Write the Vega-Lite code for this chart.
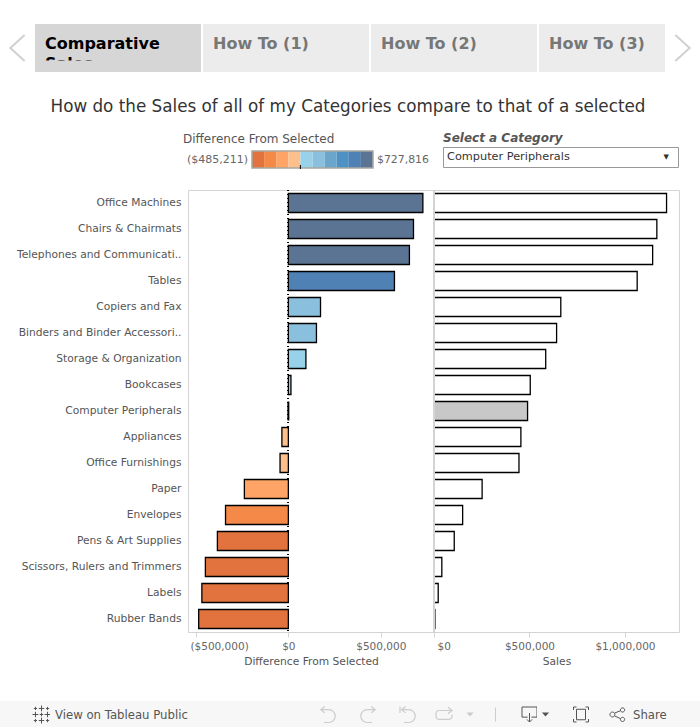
{"$schema":"https://vega.github.io/schema/vega-lite/v6.json","padding":{"top":24,"left":0,"right":0,"bottom":0},"background":"white","spacing":0,
"config":{"font":"DejaVu Sans","view":{"stroke":null},"concat":{"spacing":0}},
"datasets":{
"cats":[
{"Category":"Office Machines","Sales":1217816,"Diff":727816},
{"Category":"Chairs & Chairmats","Sales":1167000,"Diff":677000},
{"Category":"Telephones and Communicati..","Sales":1145000,"Diff":655000},
{"Category":"Tables","Sales":1064000,"Diff":574000},
{"Category":"Copiers and Fax","Sales":664000,"Diff":174000},
{"Category":"Binders and Binder Accessori..","Sales":642000,"Diff":152000},
{"Category":"Storage & Organization","Sales":585000,"Diff":95000},
{"Category":"Bookcases","Sales":504000,"Diff":14000},
{"Category":"Computer Peripherals","Sales":490000,"Diff":0},
{"Category":"Appliances","Sales":455000,"Diff":-35000},
{"Category":"Office Furnishings","Sales":445000,"Diff":-45000},
{"Category":"Paper","Sales":252000,"Diff":-238000},
{"Category":"Envelopes","Sales":150000,"Diff":-340000},
{"Category":"Pens & Art Supplies","Sales":106000,"Diff":-384000},
{"Category":"Scissors, Rulers and Trimmers","Sales":41000,"Diff":-449000},
{"Category":"Labels","Sales":22000,"Diff":-468000},
{"Category":"Rubber Bands","Sales":4789,"Diff":-485211}],
"ramp":[{"Lo":-485211,"Hi":-363908},{"Lo":-363908,"Hi":-242605},{"Lo":-242605,"Hi":-121303},{"Lo":-121303,"Hi":0},{"Lo":0,"Hi":121303},{"Lo":121303,"Hi":242605},{"Lo":242605,"Hi":363908},{"Lo":363908,"Hi":485211},{"Lo":485211,"Hi":606513},{"Lo":606513,"Hi":727816}]
},
"vconcat":[
{"hconcat":[
 {"width":35,"height":48,"data":{"values":[{"a":"prev"}]},"mark":{"type":"point","shape":"M0.55,-1L-0.55,0L0.55,1","size":676,"filled":false,"stroke":"#d0d0d0","strokeWidth":2,"opacity":1},"encoding":{}},
 {"hconcat":[
  {"width":166,"height":48,"view":{"fill":"#d6d6d6"},"layer":[
   {"data":{"values":[{"tab":"Comparative\nSales"}]},"mark":{"type":"text","clip":true,"lineBreak":"\n","align":"left","baseline":"top","dx":10,"dy":12,"fontSize":16,"fontWeight":"bold","color":"#000000","lineHeight":19.5},"encoding":{"text":{"field":"tab"},"x":{"datum":0,"type":"quantitative","scale":{"domain":[0,1]},"axis":null},"y":{"datum":1,"type":"quantitative","scale":{"domain":[0,1]},"axis":null}}},
   {"data":{"values":[{"tab":"cover"}]},"mark":{"type":"rect","color":"#d6d6d6"},"encoding":{"x":{"datum":0,"type":"quantitative"},"x2":{"datum":1},"y":{"datum":0,"type":"quantitative"},"y2":{"datum":0.24}}}
  ]},
  {"width":166,"height":48,"view":{"fill":"#ececec"},"data":{"values":[{"tab":"How To (1)"}]},"mark":{"type":"text","clip":true,"align":"left","baseline":"top","dx":10,"dy":12,"fontSize":16,"fontWeight":"bold","color":"#777777"},"encoding":{"text":{"field":"tab"},"x":{"datum":0,"type":"quantitative","scale":{"domain":[0,1]},"axis":null},"y":{"datum":1,"type":"quantitative","scale":{"domain":[0,1]},"axis":null}}},
  {"width":166,"height":48,"view":{"fill":"#ececec"},"data":{"values":[{"tab":"How To (2)"}]},"mark":{"type":"text","clip":true,"align":"left","baseline":"top","dx":10,"dy":12,"fontSize":16,"fontWeight":"bold","color":"#777777"},"encoding":{"text":{"field":"tab"},"x":{"datum":0,"type":"quantitative","scale":{"domain":[0,1]},"axis":null},"y":{"datum":1,"type":"quantitative","scale":{"domain":[0,1]},"axis":null}}},
  {"width":126,"height":48,"view":{"fill":"#ececec"},"data":{"values":[{"tab":"How To (3)"}]},"mark":{"type":"text","clip":true,"align":"left","baseline":"top","dx":10,"dy":12,"fontSize":16,"fontWeight":"bold","color":"#777777"},"encoding":{"text":{"field":"tab"},"x":{"datum":0,"type":"quantitative","scale":{"domain":[0,1]},"axis":null},"y":{"datum":1,"type":"quantitative","scale":{"domain":[0,1]},"axis":null}}}
 ],"spacing":2,"bounds":"flush"},
 {"width":35,"height":48,"data":{"values":[{"a":"next"}]},"mark":{"type":"point","shape":"M-0.55,-1L0.55,0L-0.55,1","size":676,"filled":false,"stroke":"#d0d0d0","strokeWidth":2,"opacity":1},"encoding":{}}
],"spacing":0},
{"width":696,"height":54,"data":{"values":[{"t":"How do the Sales of all of my Categories compare to that of a selected"}]},"mark":{"type":"text","fontSize":16.8,"color":"#333333","dy":8},"encoding":{"text":{"field":"t"}}},
{"hconcat":[
 {"width":183,"height":62,"data":{"values":[]},"mark":"text","encoding":{}},
 {"vconcat":[
  {"width":246,"height":21,"data":{"values":[{"t":"Difference From Selected"}]},"mark":{"type":"text","align":"left","dy":2,"fontSize":12,"color":"#555555"},"encoding":{"text":{"field":"t"},"x":{"datum":0,"type":"quantitative","scale":{"domain":[0,1]},"axis":null}}},
  {"hconcat":[
   {"width":69,"height":17,"data":{"values":[{"t":"($485,211)"}]},"mark":{"type":"text","align":"right","dx":-4,"fontSize":11,"color":"#666666"},"encoding":{"text":{"field":"t"},"x":{"datum":1,"type":"quantitative","scale":{"domain":[0,1]},"axis":null}}},
   {"width":121,"height":17,"layer":[
    {"data":{"name":"ramp"},"mark":{"type":"rect","stroke":null},"encoding":{"x":{"field":"Lo","type":"quantitative","scale":{"domain":[-485211,727816],"nice":false,"zero":false},"axis":null},"x2":{"field":"Hi"},"color":{"field":"Lo","type":"quantitative","legend":null,"scale":{"type":"threshold","domain":[-363908,-242605,-121303,0,121303,242605,363908,485211,606513],"range":["#E2723E","#F58A48","#FDA466","#FDBF8C","#98D2EA","#8ABFDD","#6AA5CB","#4E92C3","#4F81B5","#5C7494"]}}}},
    {"data":{"name":"ramp"},"mark":{"type":"rect","fill":"transparent","stroke":"#a8a8a0","strokeWidth":1.5},"encoding":{"x":{"aggregate":"min","field":"Lo","type":"quantitative"},"x2":{"aggregate":"max","field":"Hi"}}},
    {"data":{"values":[{"Zero":0}]},"mark":{"type":"rule","color":"#000000","strokeWidth":1},"encoding":{"x":{"field":"Zero","type":"quantitative"},"y":{"datum":0.18,"type":"quantitative","scale":{"domain":[0,1]},"axis":null},"y2":{"datum":-0.06}}}
   ]},
   {"width":56,"height":17,"data":{"values":[{"t":"$727,816"}]},"mark":{"type":"text","align":"left","dx":4,"fontSize":10.9,"color":"#666666"},"encoding":{"text":{"field":"t"},"x":{"datum":0,"type":"quantitative","scale":{"domain":[0,1]},"axis":null}}}
  ],"spacing":0,"bounds":"flush"}
 ],"spacing":3},
 {"width":13,"height":20,"data":{"values":[]},"mark":"text","encoding":{}},
 {"vconcat":[
  {"width":235,"height":20,"data":{"values":[{"t":"Select a Category"}]},"mark":{"type":"text","align":"left","dy":2,"fontSize":12,"fontWeight":"bold","fontStyle":"italic","color":"#555555"},"encoding":{"text":{"field":"t"},"x":{"datum":0,"type":"quantitative","scale":{"domain":[0,1]},"axis":null}}},
  {"width":235,"height":20,"view":{"stroke":"#999999","fill":"white"},"layer":[
   {"data":{"values":[{"t":"Computer Peripherals"}]},"mark":{"type":"text","align":"left","dx":4,"fontSize":11.3,"color":"#333333"},"encoding":{"text":{"field":"t"},"x":{"datum":0,"type":"quantitative","scale":{"domain":[0,1]},"axis":null}}},
   {"data":{"values":[{"t":"▼"}]},"mark":{"type":"text","align":"right","dx":-9,"fontSize":7,"color":"#333333"},"encoding":{"text":{"field":"t"},"x":{"datum":1,"type":"quantitative"}}}
  ]}
 ],"spacing":0}
],"spacing":0},
{"hconcat":[
 {"width":188,"height":442,"data":{"values":[]},"mark":"text","encoding":{}},
 {"width":246,"height":442,"view":{"stroke":"#d4d4d4"},"data":{"name":"cats"},"layer":[
  {"mark":{"type":"rule","color":"#000000","strokeDash":[1,3],"strokeWidth":1},"encoding":{"x":{"datum":0,"type":"quantitative"}}},
  {"mark":{"type":"bar","stroke":"#000000","height":19},"encoding":{
   "strokeWidth":{"condition":{"test":"datum.Diff===0","value":2},"value":1.3},
   "y":{"field":"Category","type":"nominal","sort":null,"title":null,"scale":{"paddingInner":0.27,"paddingOuter":0.135},"axis":{"domain":false,"ticks":false,"labelColor":"#555555","labelFontSize":10.7,"labelPadding":7,"labelLimit":190}},
   "x":{"field":"Diff","type":"quantitative","title":"Difference From Selected","scale":{"domain":[-543000,788000],"nice":false,"zero":false},"axis":{"grid":false,"domain":false,"values":[-500000,0,500000],"tickColor":"#d4d4d4","tickSize":5,"labelColor":"#666666","labelFontSize":10.5,"labelPadding":4,"labelFlush":10,"labelFlushOffset":6,"titleColor":"#555555","titleFontSize":10.7,"titleFontWeight":"normal","titlePadding":5,"labelExpr":"datum.value<0?'($'+format(-datum.value,',')+')':'$'+format(datum.value,',')"}},
   "color":{"field":"Diff","type":"quantitative","legend":null,"scale":{"type":"threshold","domain":[-363908,-242605,-121303,0,121303,242605,363908,485211,606513],"range":["#E2723E","#F58A48","#FDA466","#FDBF8C","#98D2EA","#8ABFDD","#6AA5CB","#4E92C3","#4F81B5","#5C7494"]}}}}
 ]},
 {"width":245,"height":442,"view":{"stroke":"#d4d4d4"},"data":{"name":"cats"},"layer":[
  {"mark":{"type":"bar","stroke":"#000000","strokeWidth":1.3,"height":19},"encoding":{
   "y":{"field":"Category","type":"nominal","sort":null,"scale":{"paddingInner":0.27,"paddingOuter":0.135},"axis":null},
   "x":{"field":"Sales","type":"quantitative","title":"Sales","scale":{"domain":[0,1283000],"nice":false},"axis":{"grid":false,"domain":false,"values":[0,500000,1000000],"tickColor":"#d4d4d4","tickSize":5,"labelColor":"#666666","labelFontSize":10.5,"labelPadding":4,"labelFlush":true,"labelFlushOffset":-3,"titleColor":"#555555","titleFontSize":10.7,"titleFontWeight":"normal","titlePadding":5,"labelExpr":"'$'+format(datum.value,',')"}},
   "color":{"condition":{"test":"datum.Category==='Computer Peripherals'","value":"#c8c8c8"},"value":"#ffffff"}}},
  {"mark":{"type":"rule","color":"#d4d4d4","strokeWidth":2},"encoding":{"x":{"datum":0,"type":"quantitative"}}}
 ]}
],"spacing":0,"bounds":"flush"},
{"width":700,"height":34,"data":{"values":[]},"mark":"text","encoding":{}},
{"hconcat":[
 {"width":33,"height":27,"view":{"fill":"#f7f7f7"},"data":{"values":[]},"mark":"text","encoding":{}},
 {"width":17,"height":27,"view":{"fill":"#f7f7f7"},"data":{"values":[{"i":"logo"}]},"mark":{"type":"point","size":324,"filled":false,"stroke":"#555555","strokeWidth":1,"opacity":1,"shape":"M0,-1V-0.35M-0.3,-0.67H0.3M0,1V0.35M-0.3,0.67H0.3M-1,0H-0.35M-0.67,-0.3V0.3M1,0H0.35M0.67,-0.3V0.3M-0.2,0H0.2M0,-0.2V0.2M-0.67,-0.85V-0.5M-0.85,-0.67H-0.5M0.67,-0.85V-0.5M0.5,-0.67H0.85M-0.67,0.5V0.85M-0.85,0.67H-0.5M0.67,0.5V0.85M0.5,0.67H0.85"},"encoding":{}},
 {"width":260,"height":27,"view":{"fill":"#f7f7f7"},"data":{"values":[{"t":"View on Tableau Public"}]},"mark":{"type":"text","align":"left","dx":5,"fontSize":11.7,"color":"#555555"},"encoding":{"text":{"field":"t"},"x":{"datum":0,"type":"quantitative","scale":{"domain":[0,1]},"axis":null}}},
 {"width":36,"height":27,"view":{"fill":"#f7f7f7"},"data":{"values":[{"i":"undo"}]},"mark":{"type":"point","size":256,"filled":false,"stroke":"#cccccc","strokeWidth":1.2,"opacity":1,"shape":"M-0.4,-1L-0.9,-0.6L-0.4,-0.2M-0.9,-0.6H0.1A0.8,0.8 0 0 1 0.1,1H-0.5"},"encoding":{}},
 {"width":44,"height":27,"view":{"fill":"#f7f7f7"},"data":{"values":[{"i":"redo"}]},"mark":{"type":"point","size":256,"filled":false,"stroke":"#cccccc","strokeWidth":1.2,"opacity":1,"shape":"M0.4,-1L0.9,-0.6L0.4,-0.2M0.9,-0.6H-0.1A0.8,0.8 0 0 0 -0.1,1H0.5"},"encoding":{}},
 {"width":36,"height":27,"view":{"fill":"#f7f7f7"},"data":{"values":[{"i":"revert"}]},"mark":{"type":"point","size":256,"filled":false,"stroke":"#cccccc","strokeWidth":1.2,"opacity":1,"shape":"M-1,-1V-0.2M-0.3,-1L-0.8,-0.6L-0.3,-0.2M-0.8,-0.6H0.1A0.8,0.8 0 0 1 0.1,1H-0.5"},"encoding":{}},
 {"width":36,"height":27,"view":{"fill":"#f7f7f7"},"data":{"values":[{"i":"refresh"}]},"mark":{"type":"point","size":256,"filled":false,"stroke":"#cccccc","strokeWidth":1.2,"opacity":1,"shape":"M0.5,-0.9L1,-0.5L0.5,-0.1M1,-0.5H-0.6A0.4,0.4 0 0 0 -1,-0.1V0.2A0.4,0.4 0 0 0 -0.6,0.6H0.6A0.4,0.4 0 0 0 1,0.2V0"},"encoding":{}},
 {"width":16,"height":27,"view":{"fill":"#f7f7f7"},"data":{"values":[{"i":"caret"}]},"mark":{"type":"point","size":64,"filled":true,"fill":"#cccccc","opacity":1,"shape":"M-0.9,-0.5H0.9L0,0.5Z"},"encoding":{}},
 {"width":35,"height":27,"view":{"fill":"#f7f7f7"},"data":{"values":[{"i":"sep"}]},"mark":{"type":"point","size":196,"filled":false,"stroke":"#cccccc","strokeWidth":1,"opacity":1,"shape":"M0,-1V1"},"encoding":{}},
 {"width":9,"height":27,"view":{"fill":"#f7f7f7"},"data":{"values":[]},"mark":"text","encoding":{}},
 {"width":15,"height":27,"view":{"fill":"#f7f7f7"},"data":{"values":[{"i":"download"}]},"mark":{"type":"point","size":225,"filled":false,"stroke":"#555555","strokeWidth":1,"opacity":1,"shape":"M-0.25,0.35H-1V-1H1V0.35H0.25M0,-0.2V1M-0.35,0.65L0,1L0.35,0.65"},"encoding":{}},
 {"width":17,"height":27,"view":{"fill":"#f7f7f7"},"data":{"values":[{"i":"caret2"}]},"mark":{"type":"point","size":64,"filled":true,"fill":"#555555","opacity":1,"shape":"M-0.9,-0.5H0.9L0,0.5Z"},"encoding":{}},
 {"width":54,"height":27,"view":{"fill":"#f7f7f7"},"data":{"values":[{"i":"fullscreen"}]},"mark":{"type":"point","size":225,"filled":false,"stroke":"#555555","strokeWidth":1,"opacity":1,"shape":"M-1,-0.6V-1H-0.6M0.6,-1H1V-0.6M1,0.6V1H0.6M-0.6,1H-1V0.6M-0.6,-0.7H0.6V0.7H-0.6Z"},"encoding":{}},
 {"width":20,"height":27,"view":{"fill":"#f7f7f7"},"data":{"values":[{"i":"share"}]},"mark":{"type":"point","size":196,"filled":false,"stroke":"#555555","strokeWidth":1,"opacity":1,"shape":"M-0.45,0A0.35,0.35 0 1 1 -1.15,0A0.35,0.35 0 1 1 -0.45,0M0.95,-0.65A0.3,0.3 0 1 1 0.35,-0.65A0.3,0.3 0 1 1 0.95,-0.65M0.95,0.7A0.3,0.3 0 1 1 0.35,0.7A0.3,0.3 0 1 1 0.95,0.7M-0.5,-0.2L0.38,-0.55M-0.5,0.2L0.38,0.6"},"encoding":{}},
 {"width":72,"height":27,"view":{"fill":"#f7f7f7"},"data":{"values":[{"t":"Share"}]},"mark":{"type":"text","align":"left","dx":5,"fontSize":11.7,"color":"#555555"},"encoding":{"text":{"field":"t"},"x":{"datum":0,"type":"quantitative","scale":{"domain":[0,1]},"axis":null}}}
],"spacing":0,"bounds":"flush"}
]}
